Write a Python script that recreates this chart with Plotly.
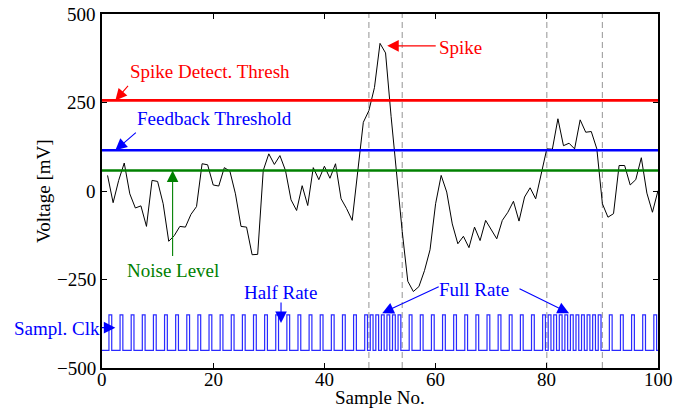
import plotly.graph_objects as go

# ---- data ----
sample_no = list(range(1, 101))
voltage_mv = [44, -33, 30, 79, -8, -48, -42, -100, 30, 27,
              -36, -142, -126, -100, -102, -66, -44, 77, 74, 17,
              14, 66, 56, -8, -100, -102, -180, -179, 58, 105,
              75, 100, 58, -25, -55, 15, -41, 66, 32, 70,
              36, 77, -22, -50, -83, 60, 194, 227, 292, 417,
              390, 210, 45, -115, -255, -284, -270, -225, -166, -36,
              44, -3, -93, -149, -128, -160, -102, -140, -83, -110,
              -135, -83, -60, -29, -85, -17, 9, -22, 44, 119,
              118, 204, 128, 135, 119, 201, 166, 168, 119, -36,
              -74, -64, 72, 72, 17, 32, 94, -6, -60, 1]
spike_thresh = 256
feedback_thresh = 115
noise_level = 58
rate_change_x = [48, 54, 80, 90]
clk_low = -450
clk_high = -350
clk_pulse_at = [1, 3, 5, 7, 9, 11, 13, 15, 17, 19, 21, 23, 25, 27, 29, 31, 33, 35,
                37, 39, 41, 43, 45, 47,
                48, 49, 50, 51, 52, 53,
                55, 57, 59, 61, 63, 65, 67, 69, 71, 73, 75, 77, 79,
                80, 81, 82, 83, 84, 85, 86, 87, 88, 89,
                91, 93, 95, 97, 99]
x_ticks = [0, 20, 40, 60, 80, 100]
x_tick_labels = ["0", "20", "40", "60", "80", "100"]
y_ticks = [-500, -250, 0, 250, 500]
y_tick_labels = ["\u2212500", "\u2212250", "0", "250", "500"]

FONT = "Liberation Serif"
FS = 19

# clock step waveform built from pulse list
cx, cy = [0], [clk_low]
for t in clk_pulse_at:
    cx += [t + 0.25, t + 0.25, t + 0.75, t + 0.75]
    cy += [clk_low, clk_high, clk_high, clk_low]
cx.append(100)
cy.append(clk_low)

fig = go.Figure()

for xv in rate_change_x:
    fig.add_shape(type="line", xref="x", yref="y", x0=xv, x1=xv, y0=-500, y1=500,
                  line=dict(color="#a6a6a6", width=1.2, dash="6px,4px"), layer="below")

fig.add_trace(go.Scatter(x=cx, y=cy, mode="lines",
                         line=dict(color="#2a2aff", width=1.2), hoverinfo="skip"))
fig.add_trace(go.Scatter(x=sample_no, y=voltage_mv, mode="lines",
                         line=dict(color="black", width=1), hoverinfo="skip"))
for val, col in [(spike_thresh, "#ff0000"), (feedback_thresh, "#0000ff"), (noise_level, "#008000")]:
    fig.add_trace(go.Scatter(x=[0, 100], y=[val, val], mode="lines",
                             line=dict(color=col, width=2.6), hoverinfo="skip"))

ann = []
def txt(s, x, y, col, ref="x", yref="y"):
    ann.append(dict(text=s, x=x, y=y, xref=ref, yref=yref, showarrow=False,
                    xanchor="center", yanchor="middle",
                    font=dict(family=FONT, size=FS, color=col)))
def arr(x, y, ax, ay, col):
    ann.append(dict(text="", x=x, y=y, xref="x", yref="y", ax=ax, ay=ay,
                    showarrow=True, arrowhead=2, arrowsize=2.1, arrowwidth=1.1,
                    arrowcolor=col, standoff=0, startstandoff=0))

txt("Spike Detect. Thresh", 19.4, 338, "#ff0000")
arr(2.4, spike_thresh, 14, -16, "#ff0000")
txt("Feedback Threshold", 20.3, 206, "#0000ff")
arr(2.4, feedback_thresh, 22, -19, "#0000ff")
txt("Noise Level", 12.8, -224, "#008000")
arr(12.7, noise_level, 0, 87, "#008000")
txt("Spike", 64.5, 405, "#ff0000")
arr(51.3, 410, 50, 0, "#ff0000")
txt("Half Rate", 32.1, -287, "#0000ff")
arr(32.2, -373, 0, -22, "#0000ff")
txt("Sampl. Clk", -0.081, 0.112, "#0000ff", ref="paper", yref="paper")
arr(2.4, -386, -15, 0, "#0000ff")
txt("Full Rate", 66.9, -278, "#0000ff")
arr(50.4, -345, 58, -27, "#0000ff")
arr(84.0, -345, -51, -25, "#0000ff")

# tick labels placed as text
for v, lab in zip(x_ticks, x_tick_labels):
    ann.append(dict(text=lab, x=v, y=0, xref="x", yref="paper", yshift=-11,
                    showarrow=False, xanchor="center", yanchor="middle",
                    font=dict(family=FONT, size=FS, color="black")))
for v, lab in zip(y_ticks, y_tick_labels):
    ann.append(dict(text=lab, x=0, y=v, xref="paper", yref="y", xshift=-4,
                    showarrow=False, xanchor="right", yanchor="middle",
                    font=dict(family=FONT, size=FS, color="black")))

ann.append(dict(text="Sample No.", x=0.5, y=-0.082, xref="paper", yref="paper",
                showarrow=False, xanchor="center", yanchor="middle",
                font=dict(family=FONT, size=FS, color="black")))
ann.append(dict(text="Voltage [mV]", x=-0.106, y=0.5, xref="paper", yref="paper",
                showarrow=False, xanchor="center", yanchor="middle", textangle=-90,
                font=dict(family=FONT, size=FS, color="black")))

axis_common = dict(showgrid=False, zeroline=False, showline=True, linecolor="black",
                   linewidth=1.5, mirror="ticks", ticks="inside", ticklen=5,
                   tickcolor="black", tickwidth=1, showticklabels=False)

fig.update_layout(
    width=683, height=410,
    margin=dict(l=102, r=25, t=14, b=42),
    paper_bgcolor="white", plot_bgcolor="white",
    showlegend=False,
    annotations=ann,
    font=dict(family=FONT, size=FS),
    xaxis=dict(range=[0, 100], tickvals=x_ticks, **axis_common),
    yaxis=dict(range=[-500, 500], tickvals=y_ticks, **axis_common),
)

fig.write_html("out.html")
